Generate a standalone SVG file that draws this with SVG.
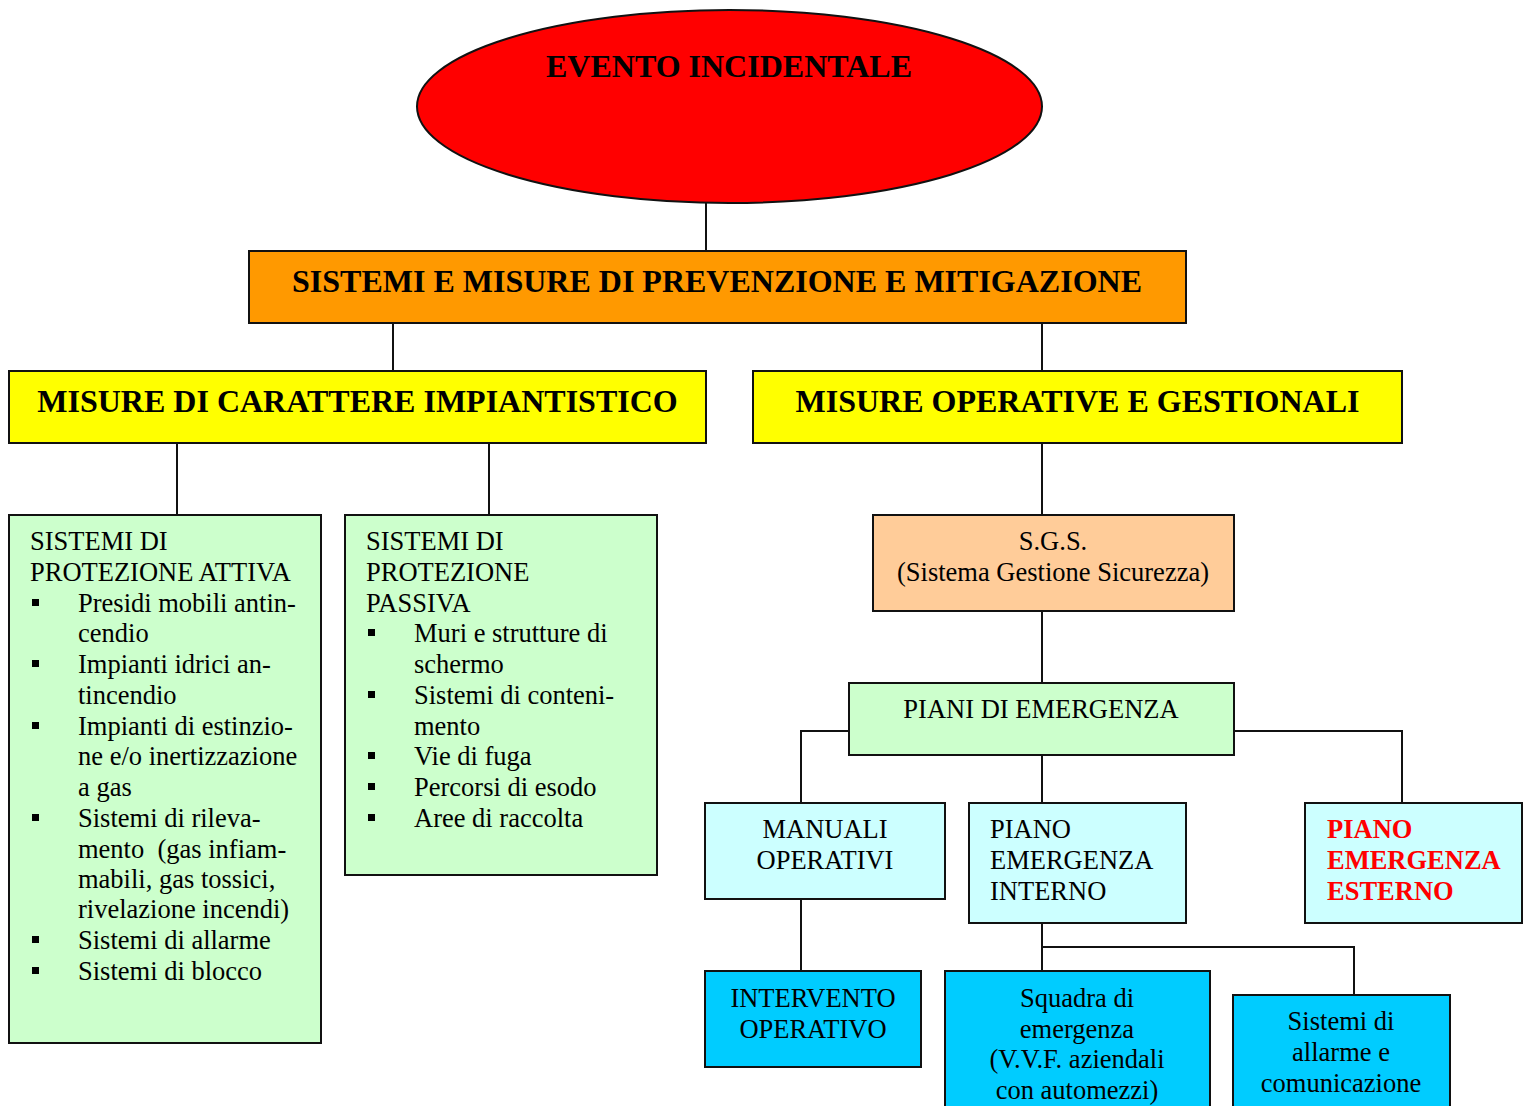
<svg xmlns="http://www.w3.org/2000/svg" width="1529" height="1106" viewBox="0 0 1529 1106">
<style>
.box{stroke:#111;stroke-width:2}
.t{font-family:"Liberation Serif","Times New Roman",serif;font-size:26.5px;fill:#000}
.c{text-anchor:middle}
.h{font-family:"Liberation Serif","Times New Roman",serif;font-size:32px;font-weight:bold;fill:#000}
.red{fill:#FF0000;font-weight:bold}
.ln{stroke:#111;stroke-width:2;fill:none}
.bul{fill:#000}
</style>
<rect width="1529" height="1106" fill="#fff"/>
<g id="connectors">
<line class="ln" x1="706" y1="203" x2="706" y2="251"/>
<line class="ln" x1="393" y1="323" x2="393" y2="371"/>
<line class="ln" x1="1042" y1="323" x2="1042" y2="371"/>
<line class="ln" x1="177" y1="443" x2="177" y2="515"/>
<line class="ln" x1="489" y1="443" x2="489" y2="515"/>
<line class="ln" x1="1042" y1="443" x2="1042" y2="515"/>
<line class="ln" x1="1042" y1="611" x2="1042" y2="683"/>
<polyline class="ln" points="849,731 801,731 801,803"/>
<polyline class="ln" points="1234,731 1402,731 1402,803"/>
<line class="ln" x1="1042" y1="755" x2="1042" y2="803"/>
<line class="ln" x1="801" y1="899" x2="801" y2="971"/>
<line class="ln" x1="1042" y1="923" x2="1042" y2="971"/>
<polyline class="ln" points="1042,947 1354,947 1354,995"/>
</g>
<g id="evento">
<ellipse class="box" cx="729.5" cy="106.5" rx="312.5" ry="96.5" fill="#FF0000"/>
<text class="h c" x="729" y="77">EVENTO INCIDENTALE</text>
</g>
<g id="sistemi-misure">
<rect class="box" x="249" y="251" width="937" height="72" fill="#FF9900"/>
<text class="h c" x="717" y="292">SISTEMI E MISURE DI PREVENZIONE E MITIGAZIONE</text>
</g>
<g id="misure-impiantistico">
<rect class="box" x="9" y="371" width="697" height="72" fill="#FFFF00"/>
<text class="h c" x="357.5" y="412">MISURE DI CARATTERE IMPIANTISTICO</text>
</g>
<g id="misure-operative">
<rect class="box" x="753" y="371" width="649" height="72" fill="#FFFF00"/>
<text class="h c" x="1077.5" y="412">MISURE OPERATIVE E GESTIONALI</text>
</g>
<g id="protezione-attiva">
<rect class="box" x="9" y="515" width="312" height="528" fill="#CCFFCC"/>
<text class="t" x="30" y="550">SISTEMI DI</text>
<text class="t" x="30" y="581">PROTEZIONE ATTIVA</text>
<rect class="bul" x="32" y="599" width="7" height="7"/>
<text class="t" x="78" y="612">Presidi mobili antin-</text>
<text class="t" x="78" y="642">cendio</text>
<rect class="bul" x="32" y="660" width="7" height="7"/>
<text class="t" x="78" y="673">Impianti idrici an-</text>
<text class="t" x="78" y="704">tincendio</text>
<rect class="bul" x="32" y="722" width="7" height="7"/>
<text class="t" x="78" y="735">Impianti di estinzio-</text>
<text class="t" x="78" y="765">ne e/o inertizzazione</text>
<text class="t" x="78" y="796">a gas</text>
<rect class="bul" x="32" y="814" width="7" height="7"/>
<text class="t" x="78" y="827">Sistemi di rileva-</text>
<text class="t" x="78" y="858" xml:space="preserve">mento  (gas infiam-</text>
<text class="t" x="78" y="888">mabili, gas tossici,</text>
<text class="t" x="78" y="918">rivelazione incendi)</text>
<rect class="bul" x="32" y="936" width="7" height="7"/>
<text class="t" x="78" y="949">Sistemi di allarme</text>
<rect class="bul" x="32" y="967" width="7" height="7"/>
<text class="t" x="78" y="980">Sistemi di blocco</text>
</g>
<g id="protezione-passiva">
<rect class="box" x="345" y="515" width="312" height="360" fill="#CCFFCC"/>
<text class="t" x="366" y="550">SISTEMI DI</text>
<text class="t" x="366" y="581">PROTEZIONE</text>
<text class="t" x="366" y="612">PASSIVA</text>
<rect class="bul" x="368" y="629" width="7" height="7"/>
<text class="t" x="414" y="642">Muri e strutture di</text>
<text class="t" x="414" y="673">schermo</text>
<rect class="bul" x="368" y="691" width="7" height="7"/>
<text class="t" x="414" y="704">Sistemi di conteni-</text>
<text class="t" x="414" y="735">mento</text>
<rect class="bul" x="368" y="752" width="7" height="7"/>
<text class="t" x="414" y="765">Vie di fuga</text>
<rect class="bul" x="368" y="783" width="7" height="7"/>
<text class="t" x="414" y="796">Percorsi di esodo</text>
<rect class="bul" x="368" y="814" width="7" height="7"/>
<text class="t" x="414" y="827">Aree di raccolta</text>
</g>
<g id="sgs">
<rect class="box" x="873" y="515" width="361" height="96" fill="#FFCC99"/>
<text class="t c" x="1053" y="550">S.G.S.</text>
<text class="t c" x="1053" y="581">(Sistema Gestione Sicurezza)</text>
</g>
<g id="piani-emergenza">
<rect class="box" x="849" y="683" width="385" height="72" fill="#CCFFCC"/>
<text class="t c" x="1041" y="718">PIANI DI EMERGENZA</text>
</g>
<g id="manuali">
<rect class="box" x="705" y="803" width="240" height="96" fill="#CCFFFF"/>
<text class="t c" x="825" y="838">MANUALI</text>
<text class="t c" x="825" y="869">OPERATIVI</text>
</g>
<g id="piano-interno">
<rect class="box" x="969" y="803" width="217" height="120" fill="#CCFFFF"/>
<text class="t" x="990" y="838">PIANO</text>
<text class="t" x="990" y="869">EMERGENZA</text>
<text class="t" x="990" y="900">INTERNO</text>
</g>
<g id="piano-esterno">
<rect class="box" x="1305" y="803" width="217" height="120" fill="#CCFFFF"/>
<text class="t red" x="1327" y="838">PIANO</text>
<text class="t red" x="1327" y="869">EMERGENZA</text>
<text class="t red" x="1327" y="900">ESTERNO</text>
</g>
<g id="intervento">
<rect class="box" x="705" y="971" width="216" height="96" fill="#00CCFF"/>
<text class="t c" x="813" y="1007">INTERVENTO</text>
<text class="t c" x="813" y="1038">OPERATIVO</text>
</g>
<g id="squadra">
<rect class="box" x="945" y="971" width="265" height="145" fill="#00CCFF"/>
<text class="t c" x="1077" y="1007">Squadra di</text>
<text class="t c" x="1077" y="1038">emergenza</text>
<text class="t c" x="1077" y="1068">(V.V.F. aziendali</text>
<text class="t c" x="1077" y="1099">con automezzi)</text>
</g>
<g id="sistemi-allarme">
<rect class="box" x="1233" y="995" width="217" height="121" fill="#00CCFF"/>
<text class="t c" x="1341" y="1030">Sistemi di</text>
<text class="t c" x="1341" y="1061">allarme e</text>
<text class="t c" x="1341" y="1092">comunicazione</text>
</g>
</svg>
